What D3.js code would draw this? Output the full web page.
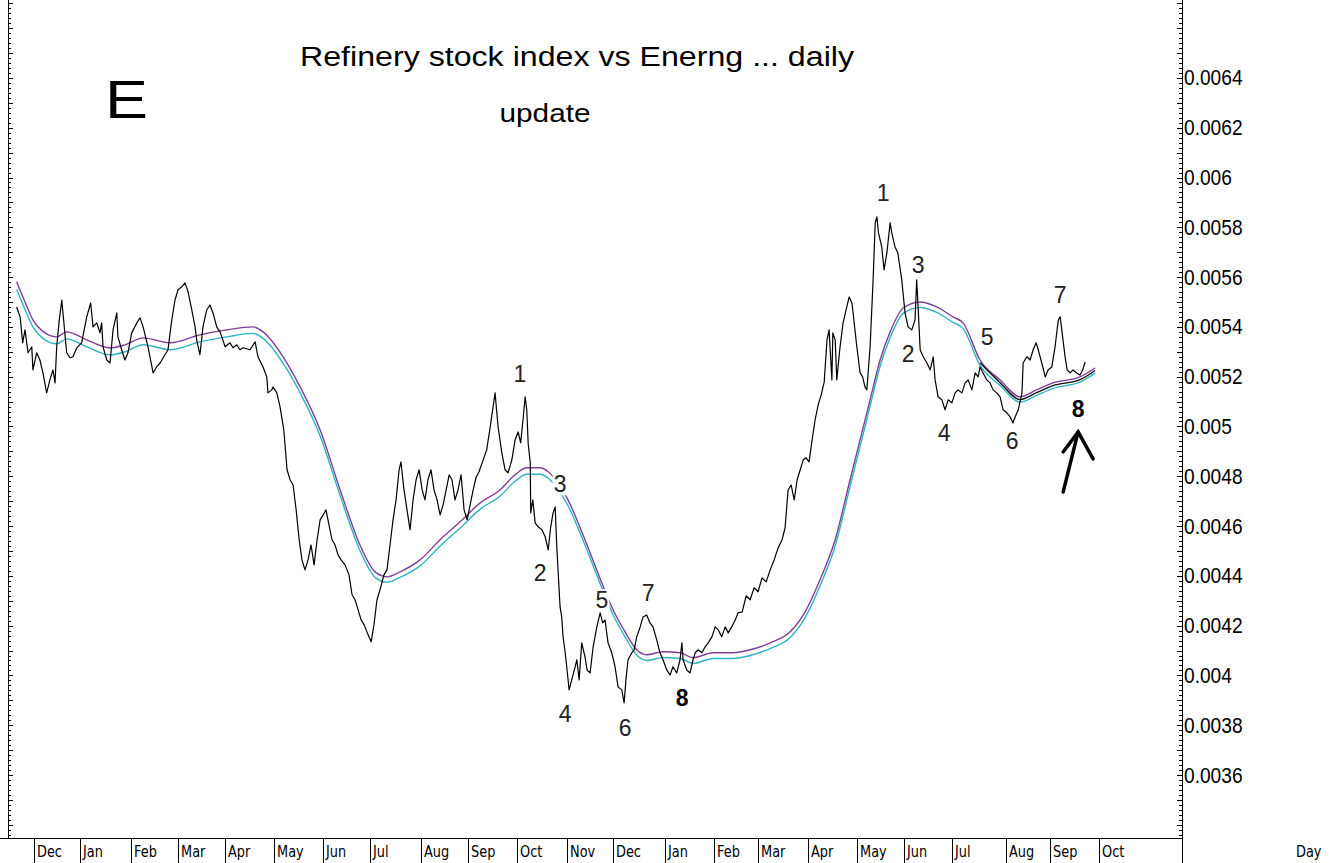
<!DOCTYPE html>
<html>
<head>
<meta charset="utf-8">
<script src="https://cdn.jsdelivr.net/npm/d3@7"></script>
<style>
  body { margin: 0; background: #fff; }
  svg { display: block; font-family: "Liberation Sans", Arial, sans-serif; }
</style>
</head>
<body>
<svg id="chart" width="1331" height="863"></svg>
<script>
"use strict";

// x positions are trading-day indices, month separators sit on the first day of each month
const monthNames = ["Dec", "Jan", "Feb", "Mar", "Apr", "May", "Jun", "Jul", "Aug", "Sep", "Oct", "Nov",
  "Dec", "Jan", "Feb", "Mar", "Apr", "May", "Jun", "Jul", "Aug", "Sep", "Oct"];
const monthStarts = [11, 30.7, 52.7, 72.9, 93, 114.1, 135.2, 155.3, 177.3, 197.5, 218.5, 240,
  259.8, 281.9, 303.3, 321.9, 343.4, 364.3, 384.8, 405.4, 428.4, 447.4, 468.4];

const yTickValues = [0.0036, 0.0038, 0.004, 0.0042, 0.0044, 0.0046, 0.0048, 0.005,
  0.0052, 0.0054, 0.0056, 0.0058, 0.006, 0.0062, 0.0064];

// [day, ratio]
const price = [
  [3.7,0.005480],[5.2,0.005440],[6.3,0.005336],[7.3,0.005388],[8.6,0.005296],[10.2,0.005320],[10.7,0.005227],
  [12.3,0.005296],[13.7,0.005267],[15.0,0.005215],[16.6,0.005135],[18.0,0.005187],[19.3,0.005227],[20.2,0.005175],
  [20.9,0.005320],[22.0,0.005428],[23.1,0.005508],[23.6,0.005456],[25.2,0.005296],[26.6,0.005276],[27.9,0.005280],
  [29.5,0.005316],[31.6,0.005336],[33.8,0.005440],[35.5,0.005496],[36.5,0.005400],[38.1,0.005416],[39.5,0.005376],
  [40.2,0.005416],[40.8,0.005320],[42.4,0.005267],[43.8,0.005255],[45.1,0.005388],[46.7,0.005456],[47.2,0.005360],
  [48.8,0.005308],[50.2,0.005267],[51.5,0.005296],[53.1,0.005376],[55.3,0.005416],[56.7,0.005436],[58.0,0.005400],
  [60.1,0.005320],[62.3,0.005215],[63.8,0.005239],[65.3,0.005255],[66.6,0.005276],[68.7,0.005308],[70.3,0.005428],
  [71.7,0.005508],[73.0,0.005549],[74.6,0.005561],[76.0,0.005577],[77.3,0.005541],[78.9,0.005468],[80.3,0.005400],
  [81.0,0.005348],[82.4,0.005288],[83.7,0.005400],[85.3,0.005468],[86.7,0.005488],[88.0,0.005456],[89.6,0.005400],
  [91.0,0.005380],[91.8,0.005360],[93.2,0.005320],[95.3,0.005336],[96.6,0.005316],[98.2,0.005328],[99.6,0.005308],
  [100.9,0.005316],[103.9,0.005308],[106.1,0.005340],[107.3,0.005280],[109.5,0.005239],[111.1,0.005199],[111.6,0.005135],
  [113.2,0.005147],[113.8,0.005159],[115.4,0.005135],[116.8,0.005079],[118.4,0.004986],[119.8,0.004826],[121.1,0.004786],
  [122.4,0.004765],[123.7,0.004665],[125.0,0.004545],[126.2,0.004464],[127.5,0.004424],[128.8,0.004464],[130.1,0.004524],
  [131.4,0.004444],[132.7,0.004545],[134.0,0.004625],[135.3,0.004645],[136.5,0.004665],[137.8,0.004605],[139.1,0.004545],
  [140.4,0.004524],[141.7,0.004484],[143.0,0.004464],[144.7,0.004444],[146.4,0.004404],[147.7,0.004324],[149.0,0.004304],
  [150.3,0.004263],[151.6,0.004223],[152.9,0.004203],[154.6,0.004163],[155.9,0.004135],[157.1,0.004203],[158.4,0.004304],
  [159.7,0.004344],[161.4,0.004404],[162.7,0.004424],[164.0,0.004524],[165.3,0.004625],[166.6,0.004705],[167.9,0.004826],
  [168.7,0.004858],[170.0,0.004745],[171.3,0.004665],[172.6,0.004585],[173.9,0.004705],[175.2,0.004786],[176.5,0.004826],
  [177.8,0.004745],[179.0,0.004705],[180.3,0.004786],[181.6,0.004826],[182.9,0.004745],[184.2,0.004705],[185.5,0.004645],
  [186.8,0.004685],[188.1,0.004745],[189.4,0.004806],[190.6,0.004786],[191.9,0.004705],[193.2,0.004745],[194.5,0.004806],
  [195.8,0.004665],[197.1,0.004625],[198.4,0.004685],[199.7,0.004745],[200.9,0.004794],[202.2,0.004818],[204.0,0.004866],
  [205.5,0.004906],[207.0,0.004998],[209.1,0.005135],[210.4,0.004998],[212.0,0.004894],[213.4,0.004826],[214.7,0.004814],
  [216.3,0.004866],[217.7,0.004946],[219.0,0.004978],[220.1,0.004934],[221.1,0.005027],[222.0,0.005119],[222.7,0.005067],
  [223.3,0.004934],[224.2,0.004854],[224.4,0.004653],[225.3,0.004705],[226.3,0.004613],[227.6,0.004597],[229.2,0.004585],
  [230.6,0.004557],[231.9,0.004504],[233.0,0.004597],[234.0,0.004653],[234.9,0.004677],[235.6,0.004516],[236.2,0.004412],
  [237.0,0.004276],[237.7,0.004235],[238.3,0.004155],[239.2,0.004091],[240.0,0.004022],[240.9,0.003942],[242.0,0.003982],
  [243.5,0.004035],[244.2,0.004063],[245.2,0.003982],[246.3,0.004131],[247.7,0.004075],[248.6,0.004022],[249.9,0.004010],
  [251.2,0.004115],[252.8,0.004195],[254.2,0.004251],[255.3,0.004211],[256.3,0.004223],[257.6,0.004131],[259.2,0.004091],
  [260.6,0.004035],[261.9,0.003954],[263.5,0.003942],[264.5,0.003890],[265.4,0.003994],[266.2,0.004063],[267.8,0.004091],
  [268.8,0.004103],[269.9,0.004155],[271.4,0.004195],[272.6,0.004235],[274.2,0.004243],[275.6,0.004211],[276.9,0.004195],
  [278.5,0.004143],[279.9,0.004091],[281.2,0.004063],[282.8,0.004022],[284.2,0.004002],[285.5,0.004035],[287.1,0.004010],
  [288.5,0.004063],[289.3,0.004131],[289.8,0.004063],[291.4,0.004022],[292.8,0.004010],[294.1,0.004063],[295.0,0.004091],
  [296.3,0.004103],[297.9,0.004091],[299.3,0.004115],[300.6,0.004131],[302.2,0.004155],[303.6,0.004195],[304.9,0.004183],
  [306.4,0.004155],[307.9,0.004195],[309.2,0.004171],[310.7,0.004195],[312.2,0.004223],[313.4,0.004251],[315.2,0.004255],
  [316.9,0.004320],[318.6,0.004304],[320.3,0.004352],[322.0,0.004336],[323.7,0.004392],[325.5,0.004376],[327.2,0.004424],
  [328.9,0.004464],[330.6,0.004512],[332.3,0.004545],[333.6,0.004593],[334.9,0.004745],[336.2,0.004765],[337.5,0.004705],
  [338.8,0.004786],[340.1,0.004826],[341.4,0.004866],[342.6,0.004874],[343.9,0.004858],[345.2,0.004946],[346.5,0.005027],
  [347.8,0.005087],[349.1,0.005127],[350.4,0.005179],[351.6,0.005348],[352.5,0.005388],[353.7,0.005187],[354.1,0.005376],
  [355.1,0.005348],[355.8,0.005187],[357.2,0.005320],[358.5,0.005416],[360.1,0.005480],[361.1,0.005520],[362.3,0.005496],
  [362.8,0.005456],[364.4,0.005320],[365.8,0.005215],[366.9,0.005199],[367.9,0.005159],[368.7,0.005147],[370.1,0.005320],
  [371.4,0.005589],[372.3,0.005818],[373.0,0.005842],[373.7,0.005778],[375.1,0.005721],[376.1,0.005629],[377.3,0.005697],
  [378.7,0.005818],[379.4,0.005778],[380.8,0.005721],[382.0,0.005697],[383.7,0.005589],[385.1,0.005456],[386.4,0.005400],
  [388.0,0.005388],[389.4,0.005428],[390.1,0.005589],[390.7,0.005480],[391.6,0.005308],[392.9,0.005280],[394.5,0.005255],
  [395.9,0.005227],[397.2,0.005280],[398.0,0.005187],[399.3,0.005119],[400.9,0.005107],[402.3,0.005067],[403.6,0.005107],
  [405.2,0.005095],[406.6,0.005135],[407.9,0.005147],[409.5,0.005135],[410.9,0.005175],[412.2,0.005187],[413.8,0.005147],
  [415.2,0.005215],[416.5,0.005199],[417.3,0.005239],[418.6,0.005215],[420.2,0.005187],[421.6,0.005175],[422.9,0.005147],
  [424.5,0.005135],[425.9,0.005119],[427.2,0.005067],[428.8,0.005055],[430.2,0.005039],[431.4,0.005014],[432.4,0.005039],
  [433.7,0.005067],[435.3,0.005135],[435.8,0.005255],[437.4,0.005280],[438.8,0.005267],[440.1,0.005308],[441.4,0.005336],
  [442.3,0.005308],[443.8,0.005255],[445.3,0.005199],[446.5,0.005227],[448.1,0.005239],[449.5,0.005320],[450.9,0.005428],
  [451.7,0.005440],[452.4,0.005388],[453.8,0.005280],[454.7,0.005227],[456.0,0.005215],[457.2,0.005227],[458.8,0.005215],
  [460.2,0.005207],[461.4,0.005227],[462.4,0.005259]
];

// moving-average band (upper purple, lower cyan) sampled at the same days
const maDays = [3.7, 7.3, 10.7, 15.9, 20.9, 25.2, 33.8, 43.8, 50.2, 58.0, 69.6, 82.4, 93.9, 105.2, 109.5,
  118.1, 125.4, 134.0, 142.6, 151.1, 157.6, 162.7, 168.3, 176.9, 185.5, 194.1, 202.7, 211.2, 217.7, 222.7,
  228.5, 231.9, 240.4, 247.7, 254.9, 259.8, 264.9, 269.9, 274.2, 281.2, 288.5, 294.1, 302.7, 311.3, 318.6,
  327.2, 335.8, 342.2, 348.6, 355.1, 361.5, 365.8, 370.1, 374.4, 378.7, 384.3, 391.6, 398.7, 405.7, 410.0,
  417.3, 425.9, 434.5, 441.6, 448.6, 460.2, 466.7];
const maPurple = [0.005581, 0.005500, 0.005428, 0.005376, 0.005360, 0.005380, 0.005348, 0.005316, 0.005328,
  0.005356, 0.005336, 0.005368, 0.005388, 0.005400, 0.005380, 0.005280, 0.005159, 0.004986, 0.004745, 0.004524,
  0.004416, 0.004396, 0.004416, 0.004464, 0.004545, 0.004617, 0.004693, 0.004745, 0.004806, 0.004834, 0.004834,
  0.004818, 0.004705, 0.004545, 0.004372, 0.004263, 0.004175, 0.004103, 0.004083, 0.004095, 0.004091, 0.004071,
  0.004091, 0.004091, 0.004103, 0.004131, 0.004175, 0.004255, 0.004384, 0.004545, 0.004786, 0.004946, 0.005107,
  0.005267, 0.005380, 0.005476, 0.005500, 0.005480, 0.005440, 0.005416, 0.005267, 0.005187, 0.005119, 0.005147,
  0.005175, 0.005199, 0.005235];
const maCyan = [0.005550, 0.005470, 0.005400, 0.005348, 0.005332, 0.005352, 0.005320, 0.005288, 0.005300,
  0.005328, 0.005308, 0.005340, 0.005360, 0.005374, 0.005354, 0.005254, 0.005135, 0.004962, 0.004722, 0.004502,
  0.004394, 0.004374, 0.004394, 0.004440, 0.004520, 0.004592, 0.004668, 0.004720, 0.004780, 0.004808, 0.004808,
  0.004792, 0.004682, 0.004524, 0.004352, 0.004243, 0.004155, 0.004082, 0.004060, 0.004072, 0.004068, 0.004048,
  0.004068, 0.004068, 0.004080, 0.004108, 0.004152, 0.004232, 0.004360, 0.004520, 0.004760, 0.004920, 0.005082,
  0.005242, 0.005356, 0.005454, 0.005478, 0.005458, 0.005418, 0.005394, 0.005245, 0.005165, 0.005098, 0.005125,
  0.005153, 0.005178, 0.005214];
// dark centre line of the band over the last months
const maDarkDays = [417.3, 425.9, 434.5, 441.6, 448.6, 460.2, 466.7];
const maDark = [0.005256, 0.005176, 0.005108, 0.005136, 0.005164, 0.005188, 0.005225];

// wave counts: [text, day, ratio, bold]
const waveLabels = [
  ["1", 219.8, 0.005211, false], ["2", 228.4, 0.004412, false], ["3", 237.0, 0.004769, false],
  ["4", 239.2, 0.003846, false], ["5", 255.0, 0.004304, false], ["6", 264.9, 0.003790, false],
  ["7", 274.8, 0.004332, false], ["8", 289.4, 0.003910, true],
  ["1", 375.7, 0.005938, false], ["2", 386.4, 0.005292, false], ["3", 390.7, 0.005649, false],
  ["4", 401.9, 0.004974, false], ["5", 420.4, 0.005360, false], ["6", 431.1, 0.004942, false],
  ["7", 451.7, 0.005529, false], ["8", 459.4, 0.005071, true]
];
// arrow pointing at the last "8": tail and tip
const arrowTail = [453.0, 0.004737];
const arrowTip = [459.4, 0.004978];

const plot = { left: 8, right: 1182, top: 0, bottom: 838, height: 863 };

const x = d3.scaleLinear().domain([0, 504]).range([plot.left, plot.right]);
const y = d3.scaleLinear().domain([0.003347, 0.006713]).range([plot.bottom, plot.top]);

const svg = d3.select("#chart");

// squeeze a text horizontally, the original fonts are narrower
function squeeze(sel, k) {
  sel.each(function () {
    const len = this.getComputedTextLength();
    d3.select(this).attr("textLength", len * k).attr("lengthAdjust", "spacingAndGlyphs");
  });
}

// ---- frame & axes
const minorTicks = d3.range(168, 336).map((i) => i * 0.00002);
const midTicks = d3.range(34, 68).map((i) => i * 0.0001);

function tickAxis(axisFn, xPos, values, size) {
  const g = svg.append("g")
    .attr("transform", `translate(${xPos},0)`)
    .call(axisFn(y).tickValues(values).tickSize(size).tickFormat(""));
  g.select(".domain").remove();
  g.selectAll("line").attr("stroke", "#000").attr("shape-rendering", "crispEdges");
  return g;
}

tickAxis(d3.axisRight, plot.left, minorTicks, 3);
tickAxis(d3.axisRight, plot.left, midTicks, 5);
tickAxis(d3.axisLeft, plot.right, minorTicks, 3);
tickAxis(d3.axisLeft, plot.right, midTicks, 5);

const yLabels = svg.append("g")
  .attr("transform", `translate(${plot.right},0)`)
  .call(d3.axisRight(y).tickValues(yTickValues).tickSize(0).tickPadding(2)
    .tickFormat((d) => String(+d.toFixed(4))));
yLabels.select(".domain").remove();
yLabels.selectAll("text")
  .attr("font-family", "'Liberation Sans', Arial, sans-serif")
  .attr("font-size", 22)
  .attr("fill", "#000")
  .call(squeeze, 0.87);

const frame = svg.append("g").attr("stroke", "#000").attr("shape-rendering", "crispEdges");
frame.append("line").attr("x1", plot.left).attr("x2", plot.left).attr("y1", 0).attr("y2", plot.bottom);
frame.append("line").attr("x1", plot.right).attr("x2", plot.right).attr("y1", 0).attr("y2", plot.height);
frame.append("line").attr("x1", 0).attr("x2", plot.right).attr("y1", plot.bottom).attr("y2", plot.bottom);

const months = svg.append("g");
months.selectAll("line")
  .data(monthStarts)
  .join("line")
  .attr("x1", (d) => Math.round(x(d)) + 0.5)
  .attr("x2", (d) => Math.round(x(d)) + 0.5)
  .attr("y1", plot.bottom)
  .attr("y2", plot.height)
  .attr("stroke", "#000");
months.selectAll("text")
  .data(monthStarts)
  .join("text")
  .attr("x", (d) => Math.round(x(d)) + 3)
  .attr("y", 857)
  .attr("font-family", "'DejaVu Sans', Verdana, sans-serif")
  .attr("font-size", 15)
  .text((d, i) => monthNames[i])
  .call(squeeze, 0.86);

svg.append("text")
  .attr("x", 1296).attr("y", 857)
  .attr("font-family", "'DejaVu Sans', Verdana, sans-serif")
  .attr("font-size", 15)
  .text("Day")
  .call(squeeze, 0.86);

// ---- series
const line = d3.line().x((d) => x(d[0])).y((d) => y(d[1]));

const band = [
  [maDays, maPurple, "#7e3f97"],
  [maDays, maCyan, "#2fb3c4"],
  [maDarkDays, maDark, "#111"]
];
band.forEach(([days, vals, color]) => {
  svg.append("path")
    .datum(days.map((d, i) => [d, vals[i]]))
    .attr("fill", "none")
    .attr("stroke", color)
    .attr("stroke-width", 1.4)
    .attr("d", d3.line().curve(d3.curveMonotoneX).x((d) => x(d[0])).y((d) => y(d[1])));
});

svg.append("path")
  .datum(price)
  .attr("fill", "none")
  .attr("stroke", "#000")
  .attr("stroke-width", 1.2)
  .attr("stroke-linejoin", "round")
  .attr("d", line);

// ---- annotations
const waves = svg.append("g");
waveLabels.forEach(([txt, d, v, bold]) => {
  const g = waves.append("g");
  const t = g.append("text")
    .attr("x", x(d))
    .attr("y", y(v))
    .attr("dy", "0.36em")
    .attr("text-anchor", "middle")
    .attr("font-size", 23)
    .attr("font-weight", bold ? "bold" : "normal")
    .attr("fill", bold ? "#000" : "#222")
    .text(txt);
  const bb = t.node().getBBox();
  g.insert("rect", "text")
    .attr("x", bb.x - 1).attr("y", bb.y + 2)
    .attr("width", bb.width + 2).attr("height", bb.height - 4)
    .attr("fill", "#fff");
});

const tip = [x(arrowTip[0]), y(arrowTip[1])];
svg.append("g")
  .attr("fill", "none")
  .attr("stroke", "#000")
  .attr("stroke-width", 3.5)
  .attr("stroke-linecap", "round")
  .call((g) => {
    g.append("line")
      .attr("x1", x(arrowTail[0])).attr("y1", y(arrowTail[1]))
      .attr("x2", tip[0]).attr("y2", tip[1]);
    g.append("polyline")
      .attr("points", [[tip[0] - 15, tip[1] + 20], tip, [tip[0] + 15, tip[1] + 27]].map((p) => p.join(",")).join(" "));
  });

svg.append("text")
  .attr("x", 577).attr("y", 66)
  .attr("text-anchor", "middle")
  .attr("font-size", 27)
  .attr("textLength", 554)
  .attr("lengthAdjust", "spacingAndGlyphs")
  .text("Refinery stock index vs Enerng ... daily");

svg.append("text")
  .attr("x", 545).attr("y", 122)
  .attr("text-anchor", "middle")
  .attr("font-size", 25)
  .attr("textLength", 91)
  .attr("lengthAdjust", "spacingAndGlyphs")
  .text("update");

svg.append("text")
  .attr("x", 105).attr("y", 118)
  .attr("font-size", 53)
  .attr("textLength", 43)
  .attr("lengthAdjust", "spacingAndGlyphs")
  .text("E");
</script>
</body>
</html>
